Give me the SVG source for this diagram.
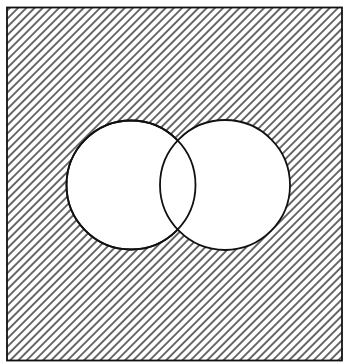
<svg xmlns="http://www.w3.org/2000/svg" width="348" height="363" viewBox="0 0 348 363">
  <defs>
    <pattern id="hatch" patternUnits="userSpaceOnUse" width="5.8" height="10" patternTransform="rotate(45)">
      <line x1="1" y1="0" x2="1" y2="10" stroke="#1a1a1a" stroke-width="1.3"/>
    </pattern>
    <style>
      .edge { fill: none; stroke: #111; stroke-width: 1.8; }
      .set { fill: #fff; stroke: #111; stroke-width: 1.8; }
    </style>
  </defs>
  <rect width="348" height="363" fill="#fff"/>
  <g id="universe">
    <rect x="7" y="7.5" width="335" height="353" fill="url(#hatch)" stroke="none"/>
    <rect x="7" y="7.5" width="335" height="353" class="edge"/>
  </g>
  <g id="setA">
    <circle cx="131" cy="185" r="64.5" class="set"/>
  </g>
  <g id="setB">
    <circle cx="225" cy="185" r="65" class="set"/>
  </g>
  <g id="outlineA">
    <circle cx="131" cy="185" r="64.5" class="edge"/>
  </g>
</svg>
